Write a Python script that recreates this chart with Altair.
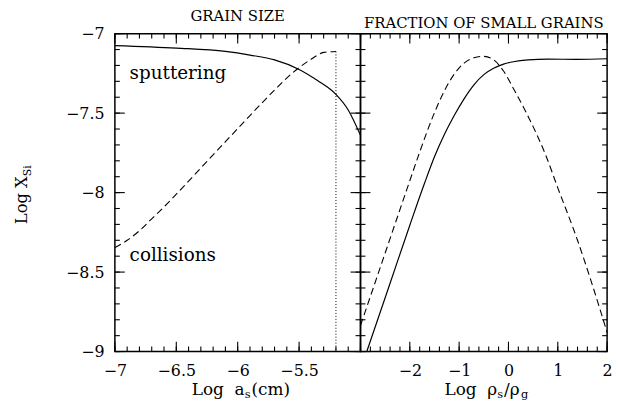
import altair as alt
import pandas as pd
import numpy as np

FONT = "DejaVu Serif"

# ---------------- data ----------------
# Left panel: grain size
size_sput_x = [-7.0, -6.5, -6.1, -5.9, -5.7, -5.5, -5.35, -5.2, -5.1, -5.0]
size_sput_y = [-7.075, -7.091, -7.112, -7.135, -7.165, -7.225, -7.295, -7.382, -7.48, -7.64]
size_coll_x = [-7.0, -6.9, -6.8, -6.7, -6.6, -6.5, -6.3, -6.1, -5.9, -5.7, -5.55, -5.4, -5.3, -5.2]
size_coll_y = [-8.346, -8.30, -8.24, -8.165, -8.09, -8.01, -7.845, -7.68, -7.515, -7.355, -7.245, -7.16, -7.118, -7.112]
cutoff_x = [-5.2]
cutoff_top = [-7.112]
cutoff_bottom = [-9.0]

# Right panel: fraction of small grains
frac_sput_x = [-2.873, -2.4, -2.0, -1.7, -1.5, -1.3, -1.1, -0.9, -0.7, -0.5, -0.3, -0.1, 0.1, 0.4, 0.8, 1.4, 2.0]
frac_sput_y = [-9.0, -8.57, -8.205, -7.94, -7.775, -7.635, -7.515, -7.41, -7.322, -7.258, -7.218, -7.192, -7.177, -7.165, -7.16, -7.162, -7.158]
frac_coll_x = [-3.0, -2.5, -2.0, -1.8, -1.5, -1.3, -1.1, -0.9, -0.7, -0.5, -0.3, -0.1, 0.1, 0.3, 0.5, 0.75, 1.0, 1.4, 1.7, 2.0]
frac_coll_y = [-8.836, -8.38, -7.925, -7.745, -7.497, -7.36, -7.255, -7.185, -7.152, -7.143, -7.165, -7.235, -7.345, -7.46, -7.585, -7.76, -7.97, -8.30, -8.58, -8.88]

# ticks and labels
left_x_major = [-7, -6.5, -6, -5.5, -5]
left_x_minor = [round(v, 1) for v in np.arange(-7.0, -4.95, 0.1)]
left_x_labels = [-7, -6.5, -6, -5.5]
right_x_major = [-3, -2, -1, 0, 1, 2]
right_x_minor = [round(v, 1) for v in np.arange(-3.0, 2.05, 0.2)]
right_x_labels = [-2, -1, 0, 1, 2]
y_major = [-9, -8.5, -8, -7.5, -7]
y_minor = [round(v, 1) for v in np.arange(-9.0, -6.95, 0.1)]
y_labels = [-9, -8.5, -8, -7.5, -7]

title_left = "GRAIN SIZE"
title_right = "FRACTION OF SMALL GRAINS"
xlab_left = ["Log\u00a0\u00a0a", "s", "(cm)"]
xlab_right = ["Log\u00a0\u00a0ρ", "s", "/ρ", "g"]
ylab = ["Log X", "Si"]
annotations = ["sputtering", "collisions"]

W_L, W_R, H = 248, 249, 321
ys = alt.Scale(domain=[-9, -7], nice=False, zero=False)
dummy = pd.DataFrame({"k": [0]})


def xaxis(vals):
    return alt.Axis(values=vals, format="~f", title=None, ticks=False, tickSize=0, domain=False,
                    grid=False, labelFont=FONT, labelFontSize=16, labelPadding=11,
                    labelFlush=False, labelOverlap=False, labelColor="black")


AX_L = xaxis(left_x_labels)
AX_R = xaxis(right_x_labels)
AY_L = alt.Axis(values=y_labels, format="~f", title=None, ticks=False, tickSize=0, domain=False,
                grid=False, labelFont=FONT, labelFontSize=16, labelPadding=11,
                labelFlush=False, labelOverlap=False, labelColor="black")


def tick_layers(values, channel, scale, axis, length, W):
    df = pd.DataFrame({"v": values})
    out = []
    if channel == "x":
        for a, b in [(H, H - length), (0, length)]:
            out.append(alt.Chart(df).mark_rule(color="black", strokeWidth=1.1).encode(
                x=alt.X("v:Q", scale=scale, axis=axis), y=alt.value(a), y2=alt.value(b)))
    else:
        for a, b in [(0, length), (W, W - length)]:
            out.append(alt.Chart(df).mark_rule(color="black", strokeWidth=1.1).encode(
                y=alt.Y("v:Q", scale=scale, axis=axis), x=alt.value(a), x2=alt.value(b)))
    return out


def label(text, x, y, size, align="left", angle=0, dx=0, dy=0):
    return alt.Chart(dummy).mark_text(
        text=text, font=FONT, fontSize=size, align=align, baseline="alphabetic",
        angle=angle, dx=dx, dy=dy, color="black"
    ).encode(x=alt.value(x), y=alt.value(y))


# ---------------- left panel ----------------
xs_L = alt.Scale(domain=[-7, -5], nice=False, zero=False)
dfL_s = pd.DataFrame({"x": size_sput_x, "y": size_sput_y})
dfL_c = pd.DataFrame({"x": size_coll_x, "y": size_coll_y})
dfL_cut = pd.DataFrame({"x": cutoff_x, "y": cutoff_top, "y2": cutoff_bottom})

left_layers = [
    alt.Chart(dfL_s).mark_line(color="black", strokeWidth=1.2, interpolate="monotone", clip=True).encode(
        x=alt.X("x:Q", scale=xs_L, axis=AX_L), y=alt.Y("y:Q", scale=ys, axis=AY_L)),
    alt.Chart(dfL_c).mark_line(color="black", strokeWidth=1.1, strokeDash=[7, 4], interpolate="monotone", clip=True).encode(
        x=alt.X("x:Q", scale=xs_L, axis=AX_L), y=alt.Y("y:Q", scale=ys, axis=AY_L)),
    alt.Chart(dfL_cut).mark_rule(color="black", strokeWidth=1, strokeDash=[1, 2]).encode(
        x=alt.X("x:Q", scale=xs_L, axis=AX_L), y=alt.Y("y:Q", scale=ys, axis=AY_L), y2="y2:Q"),
]
left_layers += tick_layers(left_x_major, "x", xs_L, AX_L, 10, W_L)
left_layers += tick_layers(left_x_minor, "x", xs_L, AX_L, 5, W_L)
left_layers += tick_layers(y_major, "y", ys, AY_L, 10, W_L)
left_layers += tick_layers(y_minor, "y", ys, AY_L, 5, W_L)
left_layers += [
    alt.Chart(dummy).mark_text(text=annotations[0], font=FONT, fontSize=18.5, align="left",
                               baseline="alphabetic", color="black").encode(
        x=alt.X("xx:Q", scale=xs_L, axis=AX_L), y=alt.Y("yy:Q", scale=ys, axis=AY_L)
    ).transform_calculate(xx="-6.88", yy="-7.287"),
    alt.Chart(dummy).mark_text(text=annotations[1], font=FONT, fontSize=18.5, align="left",
                               baseline="alphabetic", color="black").encode(
        x=alt.X("xx:Q", scale=xs_L, axis=AX_L), y=alt.Y("yy:Q", scale=ys, axis=AY_L)
    ).transform_calculate(xx="-6.88", yy="-8.431"),
    label(xlab_left[0], 131, H + 44, 17, align="right"),
    label(xlab_left[1], 131, H + 47, 11.5, align="left"),
    label(xlab_left[2], 138, H + 44, 17, align="left"),
    label(ylab[0], -89, 144, 16.5, align="right", angle=270),
    label(ylab[1], -89, 144, 11, align="left", angle=270, dy=4),
]
left = alt.layer(*left_layers).properties(
    width=W_L, height=H,
    title=alt.TitleParams(title_left, font=FONT, fontSize=15, fontWeight="normal",
                          anchor="middle", baseline="alphabetic", offset=-10, color="black"))

# ---------------- right panel ----------------
xs_R = alt.Scale(domain=[-3, 2], nice=False, zero=False)
dfR_s = pd.DataFrame({"x": frac_sput_x, "y": frac_sput_y})
dfR_c = pd.DataFrame({"x": frac_coll_x, "y": frac_coll_y})

right_layers = [
    alt.Chart(dfR_s).mark_line(color="black", strokeWidth=1.2, interpolate="monotone", clip=True).encode(
        x=alt.X("x:Q", scale=xs_R, axis=AX_R), y=alt.Y("y:Q", scale=ys, axis=None)),
    alt.Chart(dfR_c).mark_line(color="black", strokeWidth=1.1, strokeDash=[7, 4], interpolate="monotone", clip=True).encode(
        x=alt.X("x:Q", scale=xs_R, axis=AX_R), y=alt.Y("y:Q", scale=ys, axis=None)),
]
right_layers += tick_layers(right_x_major, "x", xs_R, AX_R, 10, W_R)
right_layers += tick_layers(right_x_minor, "x", xs_R, AX_R, 5, W_R)
right_layers += tick_layers(y_major, "y", ys, None, 10, W_R)
right_layers += tick_layers(y_minor, "y", ys, None, 5, W_R)
right_layers += [
    label(xlab_right[0], 138, H + 44, 17, align="right"),
    label(xlab_right[1], 138, H + 47, 11.5, align="left"),
    label(xlab_right[2], 145, H + 44, 17, align="left"),
    label(xlab_right[3], 162, H + 47, 11.5, align="left"),
]
right = alt.layer(*right_layers).properties(
    width=W_R, height=H,
    title=alt.TitleParams(title_right, font=FONT, fontSize=15, fontWeight="normal",
                          anchor="middle", baseline="alphabetic", offset=-10, color="black"))

chart = alt.hconcat(left, right, spacing=0, bounds="flush").properties(
    padding={"left": 13, "top": 6, "right": 5, "bottom": 2},
    background="white",
).configure_view(stroke="black", strokeWidth=1.5)

chart.save("out.html", embed_options={"renderer": "svg", "actions": False})
